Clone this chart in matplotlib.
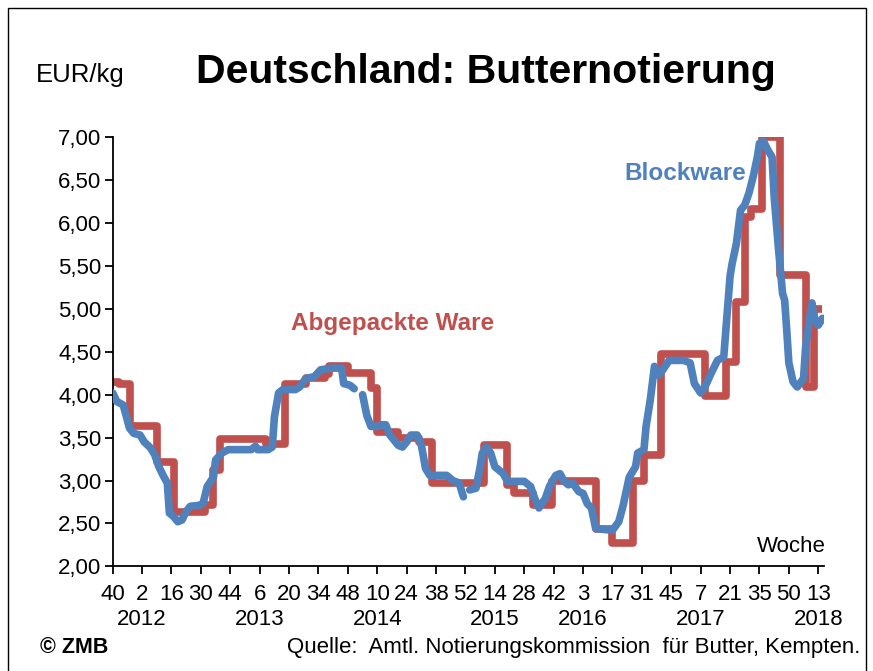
import numpy as np
import matplotlib
matplotlib.use("Agg")
import matplotlib.pyplot as plt
from matplotlib.patches import Rectangle
from matplotlib.ticker import FuncFormatter

plt.rcParams['font.family'] = ['Liberation Sans', 'DejaVu Sans']

# week index 0 = KW 40/2011, one step per week
week_labels = ["40", "2", "16", "30", "44", "6", "20", "34", "48", "10", "24", "38", "52",
               "14", "28", "42", "3", "17", "31", "45", "7", "21", "35", "50", "13"]
year_labels = ["2012", "2013", "2014", "2015", "2016", "2017", "2018"]
year_tick_pos = [1, 5, 9, 13, 16, 20, 24]   # which week label the year sits under

# Abgepackte Ware (step quotes: week where a new price starts, price)
red_weeks = [0, 3, 8, 21, 29, 44, 48, 51, 73, 82, 92, 101, 103, 112, 123, 126, 136, 146,
             152, 177, 188, 191, 200, 209, 230, 238, 248, 253, 261, 282, 292, 297, 301,
             304, 309, 318, 330, 334, 338]
red_price = [4.15, 4.13, 3.63, 3.21, 2.63, 2.72, 3.12, 3.48, 3.43, 4.13, 4.19, 4.24, 4.33,
             4.25, 4.08, 3.57, 3.49, 3.45, 2.97, 3.41, 2.95, 2.85, 2.72, 3.00, 2.44, 2.27,
             3.00, 3.30, 4.48, 3.99, 4.38, 5.08, 6.07, 6.17, 7.00, 5.40, 4.09, 5.00, 5.00]

# Blockware (weekly quotes, nan = no quotation)
blue_weeks = [0, 2, 5, 6, 8, 10, 13, 15, 18, 20, 22, 24, 26, 27, 29, 31, 33, 35, 37, 41,
              43, 45, 48, 49, 52, 55, 66, 68, 69, 74, 76, 77, 79, 81, 87, 89, 92, 96, 99,
              104, 109, 110, 113, 115, 117, 119, 120, 121, 123, 126, 128, 130, 132, 134,
              136, 138, 140, 142, 145, 147, 149, 151, 159, 162, 165, 167, 168, 170, 173,
              175, 176, 178, 180, 182, 184, 186, 188, 196, 199, 201, 203, 206, 208, 211,
              213, 215, 217, 219, 222, 224, 226, 228, 230, 238, 241, 243, 246, 249, 250,
              253, 254, 256, 258, 260, 262, 265, 272, 275, 277, 280, 282, 285, 288, 291,
              292, 294, 295, 297, 299, 301, 303, 305, 307, 308, 310, 312, 314, 315, 317,
              319, 320, 321, 322, 324, 326, 329, 330, 332, 333, 334, 336, 338]
blue_price = [4.02, 3.92, 3.88, 3.79, 3.61, 3.55, 3.53, 3.45, 3.38, 3.30, 3.16, 3.06, 2.97,
              2.62, 2.58, 2.52, 2.54, 2.64, 2.70, 2.71, 2.73, 2.93, 3.04, 3.24, 3.32, 3.36,
              3.36, 3.40, 3.36, 3.36, 3.39, 3.74, 4.02, 4.06, 4.06, 4.09, 4.19, 4.21, 4.29,
              4.31, 4.31, 4.13, 4.11, 4.07, np.nan, 4.00, 3.88, 3.76, 3.63, 3.63, 3.65,
              3.65, 3.53, 3.47, 3.41, 3.39, 3.45, 3.53, 3.53, 3.41, 3.14, 3.06, 3.06, 3.00,
              2.97, 2.81, np.nan, 2.89, 2.91, 3.16, 3.32, 3.39, 3.32, 3.16, 3.12, 3.08,
              2.99, 2.99, 2.93, 2.79, 2.68, 2.79, 2.93, 3.06, 3.08, 2.99, 2.95, 2.97, 2.87,
              2.85, 2.73, 2.68, 2.44, 2.42, 2.52, 2.70, 3.04, 3.16, 3.32, 3.36, 3.63, 3.94,
              4.33, 4.23, 4.29, 4.40, 4.40, 4.37, 4.13, 4.02, 4.09, 4.25, 4.40, 4.44, 4.75,
              5.38, 5.53, 5.76, 6.15, 6.21, 6.35, 6.54, 6.77, 6.93, 6.95, 6.85, 6.77, 6.31,
              5.72, 5.18, 5.10, 4.75, 4.37, 4.15, 4.09, 4.19, 4.56, 4.91, 5.07, 4.91, 4.81,
              4.89]

red = "#C0504D"
blue = "#4F81BD"

fig = plt.figure(figsize=(8.73, 6.71), dpi=100)
ax = fig.add_axes([0.1291, 0.156, 0.8142, 0.6394])

ax.step(red_weeks, red_price, where='post', color=red, lw=5.5, solid_joinstyle='round',
        solid_capstyle='butt', zorder=2)
ax.plot(blue_weeks, blue_price, color=blue, lw=5.5, solid_joinstyle='round',
        solid_capstyle='round', zorder=3)

ax.set_xlim(0, 338.5)
ax.set_ylim(2.0, 7.0)
ax.set_yticks(np.arange(2.0, 7.01, 0.5))
ax.yaxis.set_major_formatter(FuncFormatter(lambda v, p: f"{v:.2f}".replace(".", ",")))
ax.set_xticks(np.arange(len(week_labels)) * 14)
ax.set_xticklabels(week_labels)

for s in ["top", "right"]:
    ax.spines[s].set_visible(False)
for s in ["left", "bottom"]:
    ax.spines[s].set_linewidth(1.3)
ax.tick_params(axis='both', direction='out', length=6, width=1.3, labelsize=16, colors='black')
ax.tick_params(axis='x', pad=7)
ax.tick_params(axis='y', pad=2)

for lab, i in zip(year_labels, year_tick_pos):
    ax.text(i * 14, -0.125, lab, transform=ax.get_xaxis_transform(), ha='center',
            va='center', fontsize=16)

fig.text(0.5567, 0.8927, "Deutschland: Butternotierung", ha='center', va='center',
         fontsize=29.5, fontweight='bold')
fig.text(0.0916, 0.888, "EUR/kg", ha='center', va='center', fontsize=18.5)
fig.text(0.450, 0.5186, "Abgepackte Ware", ha='center', va='center', fontsize=17.5,
         fontweight='bold', color=red)
fig.text(0.7847, 0.742, "Blockware", ha='center', va='center', fontsize=17.5,
         fontweight='bold', color=blue)
fig.text(0.946, 0.1848, "Woche", ha='right', va='center', fontsize=16)
fig.text(0.0458, 0.0343, "© ZMB", ha='left', va='center', fontsize=15.5, fontweight='bold')
fig.text(0.985, 0.0343, "Quelle:  Amtl. Notierungskommission  für Butter, Kempten.",
         ha='right', va='center', fontsize=16)

fig.patches.append(Rectangle((8 / 873, -0.02), 858 / 873, 1.02 - 8 / 671, fill=False,
                             edgecolor='black', lw=1, transform=fig.transFigure))

fig.savefig("out.png", dpi=100)
